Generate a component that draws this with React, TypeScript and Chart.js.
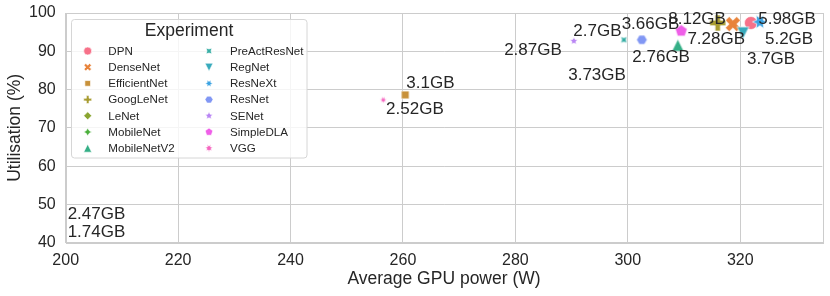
import React, { useEffect, useRef } from "react";
import { Chart, registerables } from "chart.js";

Chart.register(...registerables);

// ---------- data ----------
const models = [
  "DPN", "DenseNet", "EfficientNet", "GoogLeNet", "LeNet", "MobileNet", "MobileNetV2",
  "PreActResNet", "RegNet", "ResNeXt", "ResNet", "SENet", "SimpleDLA", "VGG",
];
// average GPU power (W); LeNet / MobileNet fall outside the visible range
const powerW = [321.9, 318.7, 260.4, 316.0, null, null, 308.9, 299.3, 320.5, 323.5, 302.5, 290.4, 309.5, 256.5];
// utilisation (%)
const utilisationPct = [97.4, 97.1, 78.6, 97.4, null, null, 91.6, 93.0, 94.8, 97.7, 93.0, 92.7, 95.3, 77.3];

// memory annotations (text, data-space position of the label's left/middle anchor)
const memLabels = ["2.52GB", "3.1GB", "2.87GB", "2.7GB", "3.73GB", "3.66GB", "8.12GB", "7.28GB", "2.76GB", "5.98GB", "5.2GB", "3.7GB", "2.47GB", "1.74GB"];
const memLabelX = [257.0, 260.6, 278.0, 290.3, 289.4, 298.9, 307.2, 310.6, 300.8, 323.2, 324.4, 321.2, 200.35, 200.35];
const memLabelY = [74.9, 81.7, 90.3, 95.2, 83.8, 97.1, 98.4, 93.0, 88.5, 98.4, 93.0, 88.0, 47.4, 42.8];

const xTicks = [200, 220, 240, 260, 280, 300, 320];
const yTicks = [40, 50, 60, 70, 80, 90, 100];

// ---------- styles ----------
const COLORS = [
  "#f77189", "#e8833a", "#c8913a", "#a89c31", "#8aa531", "#4cb03c", "#34af86",
  "#36ada4", "#38aabc", "#3ca3e2", "#8197f4", "#b985f4", "#ef5fe8", "#f565bf",
];
type MarkerDef = { kind: "circle" | "plus" | "tri" | "poly" | "star"; n?: number; rot?: number };
const MARKERS: MarkerDef[] = [
  { kind: "circle" },
  { kind: "plus", rot: 45 },
  { kind: "poly", n: 4, rot: 45 },
  { kind: "plus", rot: 0 },
  { kind: "poly", n: 4, rot: 0 },
  { kind: "star", n: 4, rot: 0 },
  { kind: "tri", rot: 0 },
  { kind: "star", n: 4, rot: 45 },
  { kind: "tri", rot: 180 },
  { kind: "star", n: 6, rot: 30 },
  { kind: "poly", n: 6, rot: 30 },
  { kind: "star", n: 5, rot: 0 },
  { kind: "poly", n: 5, rot: 0 },
  { kind: "star", n: 7, rot: 360 / 7 / 2 },
];
const MARKER_PX = [13, 16, 11, 16, 10, 10, 12, 8.5, 12, 15, 10.5, 8, 12.5, 7];
const LEGEND_MARKER_PX = 8;

const FONT = '"Liberation Sans", Arial, Helvetica, sans-serif';
const TEXT = "#262626";
const GRID = "#cccccc";

function tracePath(ctx: CanvasRenderingContext2D, m: MarkerDef, s: number) {
  const r = s / 2;
  ctx.beginPath();
  if (m.kind === "circle") {
    ctx.arc(0, 0, r, 0, Math.PI * 2);
    return;
  }
  let pts: number[][] = [];
  if (m.kind === "plus") {
    const raw = [[-1, -3], [-1, -1], [-3, -1], [-3, 1], [-1, 1], [-1, 3], [1, 3], [1, 1], [3, 1], [3, -1], [1, -1], [1, -3]];
    pts = raw.map(([x, y]) => [(x / 6) * s, (y / 6) * s]);
  } else if (m.kind === "tri") {
    pts = [[0, 1], [-1, -1], [1, -1]].map(([x, y]) => [x * r, y * r]);
  } else {
    const n = m.n as number;
    const k = m.kind === "star" ? 2 * n : n;
    for (let i = 0; i < k; i++) {
      const th = Math.PI / 2 + (2 * Math.PI * i) / k;
      const rr = m.kind === "star" && i % 2 === 1 ? 0.5 * r : r;
      pts.push([rr * Math.cos(th), rr * Math.sin(th)]);
    }
  }
  const a = ((m.rot || 0) * Math.PI) / 180;
  pts.forEach(([x, y], i) => {
    const xr = x * Math.cos(a) - y * Math.sin(a);
    const yr = x * Math.sin(a) + y * Math.cos(a);
    if (i === 0) ctx.moveTo(xr, -yr);
    else ctx.lineTo(xr, -yr);
  });
  ctx.closePath();
}

function paintMarker(ctx: CanvasRenderingContext2D, m: MarkerDef, s: number, color: string) {
  tracePath(ctx, m, s);
  ctx.fillStyle = color;
  ctx.fill();
  ctx.strokeStyle = "rgba(255,255,255,0.9)";
  ctx.lineWidth = 0.7;
  ctx.stroke();
}

function makeMarkerImage(m: MarkerDef, s: number, color: string) {
  const dim = Math.ceil(s * 1.2) + 4;
  const c = document.createElement("canvas");
  c.width = dim;
  c.height = dim;
  const ctx = c.getContext("2d") as CanvasRenderingContext2D;
  ctx.translate(dim / 2, dim / 2);
  paintMarker(ctx, m, s, color);
  return c;
}

const overlayPlugin = {
  id: "overlay",
  afterDatasetsDraw(chart: any) {
    const { ctx, chartArea: a, scales } = chart;
    const x = scales.x;
    const y = scales.y;
    ctx.save();
    // spines
    ctx.strokeStyle = GRID;
    ctx.lineWidth = 1;
    ctx.strokeRect(Math.round(a.left) + 0.5, Math.round(a.top) + 0.5, Math.round(a.right - a.left), Math.round(a.bottom - a.top));
    // memory annotations
    ctx.font = `17px ${FONT}`;
    ctx.fillStyle = TEXT;
    ctx.textAlign = "left";
    ctx.textBaseline = "middle";
    memLabels.forEach((t, i) => {
      ctx.fillText(t, x.getPixelForValue(memLabelX[i]), y.getPixelForValue(memLabelY[i]));
    });
    ctx.restore();
  },
  afterDraw(chart: any) {
    const { ctx } = chart;
    ctx.save();
    // legend box
    const bx = 71.5, by = 19.5, bw = 235.5, bh = 138.5, rad = 3;
    ctx.beginPath();
    ctx.moveTo(bx + rad, by);
    ctx.arcTo(bx + bw, by, bx + bw, by + bh, rad);
    ctx.arcTo(bx + bw, by + bh, bx, by + bh, rad);
    ctx.arcTo(bx, by + bh, bx, by, rad);
    ctx.arcTo(bx, by, bx + bw, by, rad);
    ctx.closePath();
    ctx.fillStyle = "rgba(255,255,255,0.8)";
    ctx.fill();
    ctx.strokeStyle = "#d6d6d6";
    ctx.lineWidth = 1;
    ctx.stroke();
    // title
    ctx.fillStyle = TEXT;
    ctx.font = `17.5px ${FONT}`;
    ctx.textAlign = "center";
    ctx.textBaseline = "middle";
    ctx.fillText("Experiment", 189, 31);
    // entries
    ctx.font = `11.6px ${FONT}`;
    ctx.textAlign = "left";
    const rows = 7;
    models.forEach((name, i) => {
      const col = Math.floor(i / rows);
      const row = i % rows;
      const cy = 51 + row * 16.2;
      const mx = col === 0 ? 87.7 : 209;
      const tx = col === 0 ? 108.3 : 230;
      ctx.save();
      ctx.translate(mx, cy);
      paintMarker(ctx, MARKERS[i], LEGEND_MARKER_PX, COLORS[i]);
      ctx.restore();
      ctx.fillStyle = TEXT;
      ctx.fillText(name, tx, cy + 0.5);
    });
    ctx.restore();
  },
};

export default function App() {
  const ref = useRef<HTMLCanvasElement>(null);

  useEffect(() => {
    document.body.style.margin = "0";
    const canvas = ref.current;
    if (!canvas) return;

    const datasets = models.map((name, i) => ({
      label: name,
      data: powerW[i] == null ? [] : [{ x: powerW[i] as number, y: utilisationPct[i] as number }],
      pointStyle: makeMarkerImage(MARKERS[i], MARKER_PX[i], COLORS[i]),
      pointRadius: 5,
      backgroundColor: COLORS[i],
      borderColor: COLORS[i],
      order: -i,
    }));

    const chart = new Chart(canvas, {
      type: "scatter",
      data: { datasets },
      options: {
        responsive: false,
        animation: false,
        events: [],
        layout: { padding: { top: 13, right: 7.7, left: 0, bottom: 0 } },
        plugins: { legend: { display: false }, tooltip: { enabled: false } },
        scales: {
          x: {
            type: "linear",
            min: 200,
            max: 334.6,
            afterBuildTicks: (s: any) => {
              s.ticks = xTicks.map((v) => ({ value: v }));
            },
            afterFit: (s: any) => {
              s.height = 53.3;
              s.paddingLeft = 0;
              s.paddingRight = 0;
            },
            ticks: { color: TEXT, font: { family: FONT, size: 16 }, padding: 8, maxRotation: 0 },
            grid: { color: GRID, lineWidth: 1, drawTicks: false },
            border: { color: GRID, width: 1 },
            title: {
              display: true,
              text: "Average GPU power (W)",
              color: TEXT,
              font: { family: FONT, size: 17.5 },
              padding: { top: 0, bottom: 6 },
            },
          },
          y: {
            type: "linear",
            min: 40,
            max: 100,
            afterBuildTicks: (s: any) => {
              s.ticks = yTicks.map((v) => ({ value: v }));
            },
            afterFit: (s: any) => {
              s.width = 65.7;
              s.paddingTop = 0;
              s.paddingBottom = 0;
            },
            ticks: { color: TEXT, font: { family: FONT, size: 16 }, padding: 10 },
            grid: { color: GRID, lineWidth: 1, drawTicks: false },
            border: { color: GRID, width: 1 },
            title: {
              display: true,
              text: "Utilisation (%)",
              color: TEXT,
              font: { family: FONT, size: 17.5 },
              padding: { top: 4.5, bottom: 0 },
            },
          },
        },
      },
      plugins: [overlayPlugin],
    } as any);

    return () => chart.destroy();
  }, []);

  return <canvas ref={ref} width={830} height={296} style={{ display: "block" }} />;
}
